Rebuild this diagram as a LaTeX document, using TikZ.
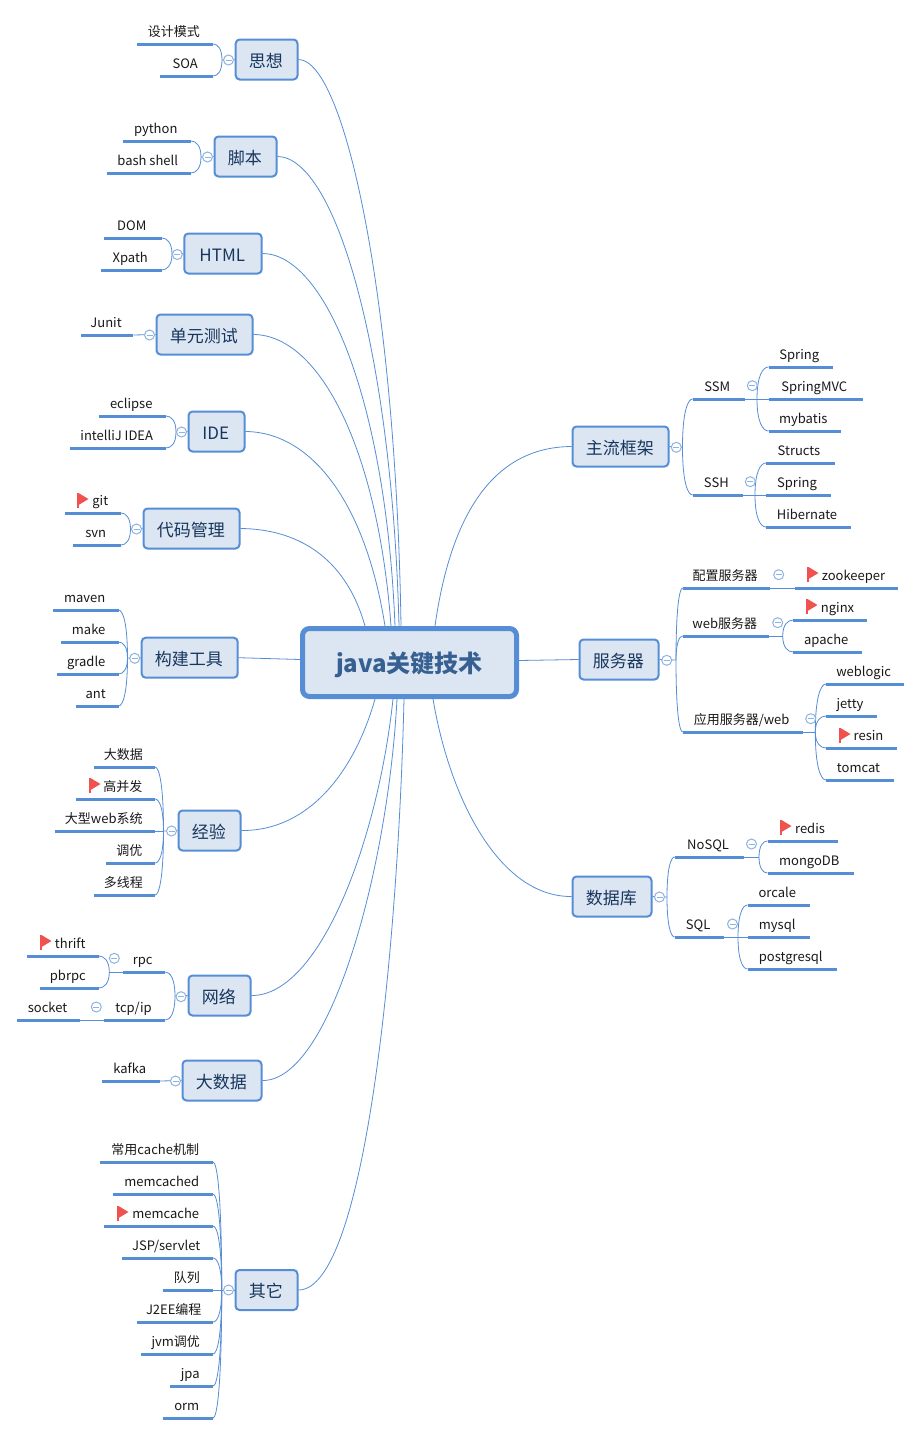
\documentclass[tikz,border=0pt]{standalone}
\usepackage{fontspec}
\setmainfont{Noto Sans CJK SC}
\usetikzlibrary{calc}
\definecolor{mbl}{HTML}{558ED5}
\definecolor{mfill}{HTML}{DCE6F2}
\definecolor{mtxt}{HTML}{17365D}
\definecolor{mroot}{HTML}{376092}
\definecolor{mfold}{HTML}{8DB3E2}
\definecolor{mflag}{HTML}{F0524F}
\tikzset{
 x=1pt,y=-1pt,
 link/.style={draw=mbl,line width=0.8pt},
 rulel/.style={draw=mbl,line width=3pt},
 leafnode/.style={inner xsep=0pt,inner ysep=5pt,outer sep=0pt,text height=10pt,text depth=3pt,anchor=south,font=\fontsize{13}{15}\selectfont,text=black!90},
 topicnode/.style={draw=mbl,fill=mfill,line width=2pt,rounded corners=4pt,inner sep=0pt,outer sep=1pt,text height=16pt,text depth=1pt,font=\fontsize{17}{20}\selectfont,text=mtxt},
 rootnode/.style={draw=mbl,fill=mfill,line width=5pt,rounded corners=7pt,inner sep=0pt,outer sep=2.5pt,text height=22pt,text depth=3pt,font=\bfseries\fontsize{24}{28}\selectfont,text=mroot},
 foldnode/.style={circle,draw=mfold,fill=white,line width=1pt,minimum size=10pt,inner sep=0pt,path picture={\draw[mfold,line width=1pt] (-3,0)--(3,0);}},
 flagmark/.pic={\fill[mflag] (0,0) rectangle (2,15); \fill[mflag] (2,0)--(12,6)--(2,12)--cycle;}
}
\newcommand\leaf[5]{\node[leafnode,minimum width={(#3-#2)*1pt}] (#1) at ({(#2+#3)/2},#4) {#5\hspace*{2.5pt}};
 \draw[rulel] (#1.south west)--(#1.south east);}
\newcommand\topic[6]{\node[topicnode,minimum width={(#4-#2-2)*1pt},minimum height={(#5-#3-2)*1pt}] (#1) at ({(#2+#4)/2},{(#3+#5)/2}) {#6\hspace*{1.5pt}};}
\newcommand\brk[2]{\draw[link] (#1) .. controls ($(#1)!.72!(#1|-#2)$) and ($(#1|-#2)!.5!(#2)$) .. (#2);}
\newcommand\hub[3]{\coordinate (#1) at (#2,#3);}
\newcommand\fold[3]{\node[foldnode] (#1) at (#2,#3) {};}
\newcommand\spoke[5]{\draw[link] (#1) .. controls (#2) and (#3) .. (#4,0 |- root.#5);}
\newcommand\fg{\hspace*{17pt}}
\begin{document}
\begin{tikzpicture}
\useasboundingbox (0,0) rectangle (921,1435);
\fill[white] (0,0) rectangle (921,1435);
\node[rootnode,minimum width=214pt,minimum height=68pt] (root) at (409.5,662.5) {java关键技术};
% topics
\topic{ta}{234.7}{38.5}{298.5}{80.5}{思想}
\topic{tb}{213.5}{135.5}{277.5}{177.5}{脚本}
\topic{tc}{183.3}{232.5}{262.7}{274.5}{HTML}
\topic{td}{155.5}{313.5}{253.5}{355.5}{单元测试}
\topic{te}{187.5}{410.5}{245.5}{452.5}{IDE}
\topic{tf}{142.5}{507.5}{240.5}{549.5}{代码管理}
\topic{tg}{140.7}{636.7}{238.7}{678.7}{构建工具}
\topic{th}{177.5}{809.5}{241.5}{851.5}{经验}
\topic{ti}{187.5}{974.5}{251.5}{1016.5}{网络}
\topic{tj}{181.5}{1059.5}{262.5}{1101.5}{大数据}
\topic{tk}{234.5}{1269}{298.5}{1311}{其它}
\topic{tr}{571.5}{425.5}{669.5}{467.5}{主流框架}
\topic{ts}{578.5}{638.5}{659.5}{680.5}{服务器}
\topic{tt}{571.5}{875.5}{652.5}{917.5}{数据库}
% spokes
\spoke{ta.east}{345,60}{396,300}{401}{north}
\spoke{tb.east}{335,157}{392,350}{399}{north}
\spoke{tc.east}{325,254}{386,400}{395}{north}
\spoke{td.east}{320,335}{378,450}{391}{north}
\spoke{te.east}{310,432}{365,500}{385}{north}
\spoke{tf.east}{295,529}{345,555}{365}{north}
\draw[link] (tg.east) -- ($(root.west)+(0,-3)$);
\spoke{th.east}{310,831}{355,770}{375}{south}
\spoke{ti.east}{320,996}{378,840}{393}{south}
\spoke{tj.east}{330,1081}{388,870}{397}{south}
\spoke{tk.east}{365,1290}{398,950}{404}{south}
\spoke{tr.west}{490,447}{450,520}{435}{north}
\draw[link] (ts.west) -- ($(root.east)+(0,-2)$);
\spoke{tt.west}{500,897}{450,800}{433}{south}
% leaves
\leaf{a1}{137}{213}{44}{设计模式}
\leaf{a2}{160}{213}{76}{SOA}
\leaf{b1}{123}{191}{141}{python}
\leaf{b2}{107}{191}{173}{bash shell}
\leaf{c1}{104.3}{161.7}{238}{DOM}
\leaf{c2}{101.3}{161.7}{270}{Xpath}
\leaf{d1}{81.3}{133.3}{335}{Junit}
\leaf{e1}{99}{166}{416}{eclipse}
\leaf{e2}{70}{166}{448}{intelliJ IDEA}
\leaf{f1}{65}{121}{513}{\fg git}
\leaf{f2}{73}{121}{545}{svn}
\leaf{g1}{53.3}{118.5}{610}{maven}
\leaf{g2}{61.3}{118.5}{642}{make}
\leaf{g3}{56.5}{118.5}{674}{gradle}
\leaf{g4}{75.5}{118.5}{706}{ant}
\leaf{h1}{94}{155}{767}{大数据}
\leaf{h2}{76}{155}{799}{\fg 高并发}
\leaf{h3}{55}{155}{831}{大型web系统}
\leaf{h4}{106}{155}{863}{调优}
\leaf{h5}{94}{155}{895}{多线程}
\leaf{i1}{122.7}{165.3}{972}{rpc}
\leaf{i2}{104.3}{165.3}{1020}{tcp/ip}
\leaf{i3}{27.3}{98.7}{956}{\fg thrift}
\leaf{i4}{39.5}{98.7}{988}{pbrpc}
\leaf{i5}{17.3}{80.3}{1020}{socket}
\leaf{j1}{102}{160}{1081}{kafka}
\leaf{k1}{100}{213}{1162}{常用cache机制}
\leaf{k2}{113}{213}{1194}{memcached}
\leaf{k3}{104}{213}{1226}{\fg memcache}
\leaf{k4}{122}{213}{1258}{JSP/servlet}
\leaf{k5}{163}{213}{1290}{队列}
\leaf{k6}{137}{213}{1322}{J2EE编程}
\leaf{k7}{141}{213}{1354}{jvm调优}
\leaf{k8}{170}{213}{1386}{jpa}
\leaf{k9}{163}{213}{1418}{orm}
\leaf{r1}{692.7}{744.5}{399}{SSM}
\leaf{r2}{692.7}{742.5}{495}{SSH}
\leaf{r3}{768.5}{832.5}{367}{Spring}
\leaf{r4}{768.5}{862.5}{399}{SpringMVC}
\leaf{r5}{768.5}{840.5}{431}{mybatis}
\leaf{r6}{766}{834.5}{463}{Structs}
\leaf{r7}{766}{830.5}{495}{Spring}
\leaf{r8}{766}{850.5}{527}{Hibernate}
\leaf{s1}{682.7}{770}{588}{配置服务器}
\leaf{s2}{682.7}{769.3}{636}{web服务器}
\leaf{s3}{682.7}{803}{732}{应用服务器/web}
\leaf{s4}{794.7}{897.7}{588}{\fg zookeeper}
\leaf{s5}{793.3}{867.3}{620}{\fg nginx}
\leaf{s6}{793.3}{861.7}{652}{apache}
\leaf{s7}{826}{903.7}{684}{weblogic}
\leaf{s8}{826}{876.5}{716}{jetty}
\leaf{s9}{826}{896.5}{748}{\fg resin}
\leaf{s0}{826}{893.5}{780}{tomcat}
\leaf{t1}{674.7}{744}{857}{NoSQL}
\leaf{t2}{674.7}{724}{937}{SQL}
\leaf{t3}{767.5}{838}{841}{\fg redis}
\leaf{t4}{767.5}{853.5}{873}{mongoDB}
\leaf{t5}{747.5}{809.5}{905}{orcale}
\leaf{t6}{747.5}{809.5}{937}{mysql}
\leaf{t7}{747.5}{836.5}{969}{postgresql}
% hubs
\hub{ha}{222}{60}\hub{hb}{201}{157}\hub{hc}{172}{254}\hub{he}{176}{432}\hub{hf}{130.5}{529}
\hub{hg}{127.5}{658}\hub{hh}{163.5}{831}\hub{hi}{175}{996}\hub{hn}{109.3}{972}\hub{hk}{221.7}{1290}
\hub{hr}{682.5}{447}\hub{hp}{757}{399}\hub{hq}{755}{495}
\hub{hs}{676}{660}\hub{hu}{782.7}{636}\hub{hv}{815.3}{732}
\hub{ht}{667}{897}\hub{hw}{759}{857}\hub{hx}{738}{937}
\draw[link] (ta.west)--(ha); \brk{ha}{a1.south east}\brk{ha}{a2.south east}
\draw[link] (tb.west)--(hb); \brk{hb}{b1.south east}\brk{hb}{b2.south east}
\draw[link] (tc.west)--(hc); \brk{hc}{c1.south east}\brk{hc}{c2.south east}
\draw[link] (td.west)--(d1.south east);
\draw[link] (te.west)--(he); \brk{he}{e1.south east}\brk{he}{e2.south east}
\draw[link] (tf.west)--(hf); \brk{hf}{f1.south east}\brk{hf}{f2.south east}
\draw[link] (tg.west)--(hg); \brk{hg}{g1.south east}\brk{hg}{g2.south east}\brk{hg}{g3.south east}\brk{hg}{g4.south east}
\draw[link] (th.west)--(hh); \brk{hh}{h1.south east}\brk{hh}{h2.south east}\draw[link] (hh)--(h3.south east);\brk{hh}{h4.south east}\brk{hh}{h5.south east}
\draw[link] (ti.west)--(hi); \brk{hi}{i1.south east}\brk{hi}{i2.south east}
\draw[link] (i1.south west)--(hn); \brk{hn}{i3.south east}\brk{hn}{i4.south east}
\draw[link] (i2.south west)--(i5.south east);
\draw[link] (tj.west)--(j1.south east);
\draw[link] (tk.west)--(hk); \brk{hk}{k1.south east}\brk{hk}{k2.south east}\brk{hk}{k3.south east}\brk{hk}{k4.south east}\draw[link] (hk)--(k5.south east);\brk{hk}{k6.south east}\brk{hk}{k7.south east}\brk{hk}{k8.south east}\brk{hk}{k9.south east}
\draw[link] (tr.east)--(hr); \brk{hr}{r1.south west}\brk{hr}{r2.south west}
\draw[link] (r1.south east)--(hp); \brk{hp}{r3.south west}\draw[link] (hp)--(r4.south west);\brk{hp}{r5.south west}
\draw[link] (r2.south east)--(hq); \brk{hq}{r6.south west}\draw[link] (hq)--(r7.south west);\brk{hq}{r8.south west}
\draw[link] (ts.east)--(hs); \brk{hs}{s1.south west}\brk{hs}{s2.south west}\brk{hs}{s3.south west}
\draw[link] (s1.south east)--(s4.south west);
\draw[link] (s2.south east)--(hu); \brk{hu}{s5.south west}\brk{hu}{s6.south west}
\draw[link] (s3.south east)--(hv); \brk{hv}{s7.south west}\brk{hv}{s8.south west}\brk{hv}{s9.south west}\brk{hv}{s0.south west}
\draw[link] (tt.east)--(ht); \brk{ht}{t1.south west}\brk{ht}{t2.south west}
\draw[link] (t1.south east)--(hw); \brk{hw}{t3.south west}\brk{hw}{t4.south west}
\draw[link] (t2.south east)--(hx); \brk{hx}{t5.south west}\draw[link] (hx)--(t6.south west);\brk{hx}{t7.south west}
% folds
\fold{fa}{228.5}{60}\fold{fb}{207.5}{157}\fold{fc}{177.3}{254.5}\fold{fd}{149.5}{335}\fold{fe}{181.5}{432}
\fold{ff}{136.5}{529}\fold{fg}{134.7}{658.3}\fold{fh}{171.5}{831}\fold{fi}{181}{996.7}\fold{fn}{114.3}{958.3}
\fold{fo}{96.3}{1007}\fold{fj}{175.5}{1081}\fold{fk}{228.5}{1290}
\fold{fr}{676.3}{447.3}\fold{fp}{752.3}{385.7}\fold{fq}{750.3}{481.7}
\fold{fs}{666.7}{660.3}\fold{fu}{778.7}{574.7}\fold{fv}{777.7}{622.7}\fold{fw}{810.7}{718.7}
\fold{ft}{659.5}{897}\fold{fx}{751.5}{844}\fold{fy}{732.5}{924}
% flags
\pic at (76.5,493) {flagmark};
\pic at (88.5,778) {flagmark};
\pic at (39.5,935) {flagmark};
\pic at (116.5,1206) {flagmark};
\pic at (806.5,567) {flagmark};
\pic at (805.5,599) {flagmark};
\pic at (838.5,728) {flagmark};
\pic at (779.5,820) {flagmark};
\end{tikzpicture}
\end{document}
